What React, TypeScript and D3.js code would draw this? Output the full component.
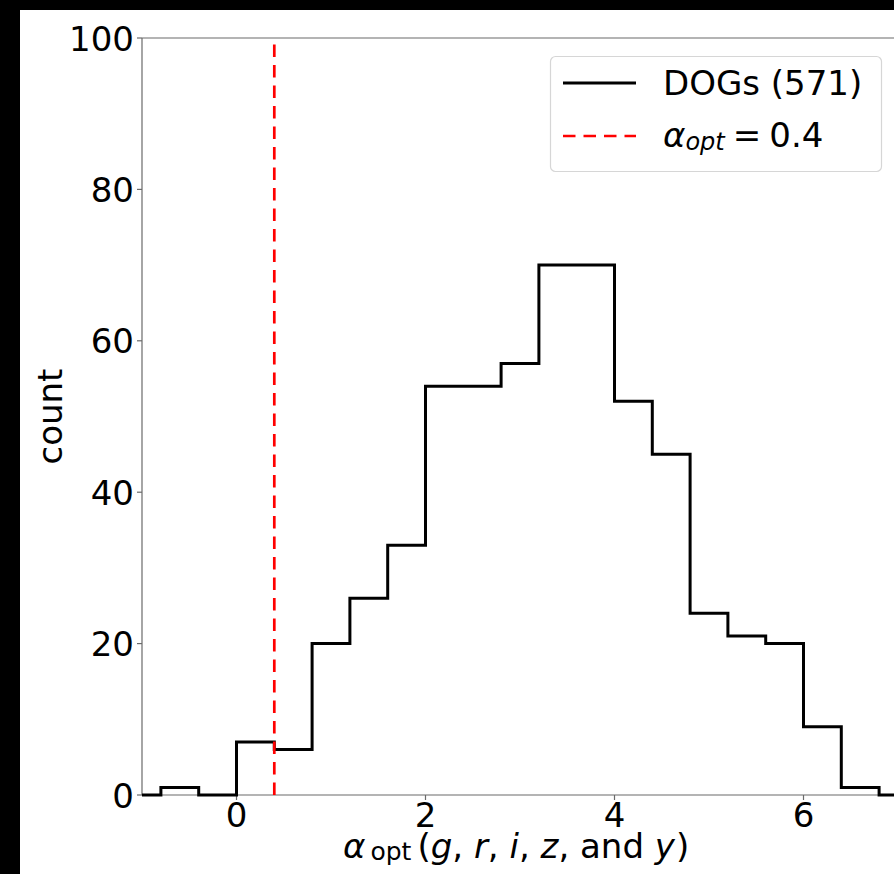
import React from "react";
import * as d3 from "d3";

// ---- data ----
const binEdges = [-1.2, -0.8, -0.4, 0.0, 0.4, 0.8, 1.2, 1.6, 2.0, 2.4, 2.8, 3.2, 3.6, 4.0, 4.4, 4.8, 5.2, 5.6, 6.0, 6.4, 6.8, 7.2];
const binCounts = [0, 1, 0, 7, 6, 20, 26, 33, 54, 54, 57, 70, 70, 52, 45, 24, 21, 20, 9, 1, 0];
const xTicks = [0, 2, 4, 6];
const yTicks = [0, 20, 40, 60, 80, 100];
const alphaOpt = 0.4;
const seriesLabel = "DOGs (571)";

const W = 894;
const H = 874;
const FONT = "DejaVu Sans, sans-serif";

export default function App() {
  const left = 142, right = 898, top = 38, bottom = 795;
  const x = d3.scaleLinear().domain([-1, 7]).range([left, right]);
  const y = d3.scaleLinear().domain([0, 100]).range([bottom, top]);

  const pts: [number, number][] = [[binEdges[0], 0]];
  binCounts.forEach((c, i) => {
    pts.push([binEdges[i], c]);
    pts.push([binEdges[i + 1], c]);
  });
  pts.push([binEdges[binEdges.length - 1], 0]);
  const line = d3.line<[number, number]>().x(d => x(d[0])).y(d => y(d[1]));

  const spine = "#6a6a6a";
  return (
    <svg width={W} height={H} style={{ position: "absolute", left: 0, top: 0 }} fontFamily={FONT}>
      <defs>
        <clipPath id="plot">
          <rect x={left} y={top - 2} width={right - left} height={bottom - top + 4} />
        </clipPath>
      </defs>
      <rect x={0} y={0} width={W} height={H} fill="#000" />
      <rect x={20} y={10} width={W - 20} height={H - 10} fill="#fff" />

      {/* spines */}
      <line x1={left} x2={right} y1={top} y2={top} stroke={spine} strokeWidth={1.2} />
      <line x1={left} x2={left} y1={top} y2={bottom} stroke={spine} strokeWidth={1.2} />
      <line x1={left} x2={right} y1={bottom} y2={bottom} stroke={spine} strokeWidth={1.2} />

      {/* y ticks */}
      {yTicks.map(t => (
        <g key={"y" + t}>
          <line x1={left - 5} x2={left} y1={y(t)} y2={y(t)} stroke={spine} strokeWidth={1.2} />
          <text x={left - 8} y={y(t) + 12.5} textAnchor="end" fontSize={34} fill="#000">{t}</text>
        </g>
      ))}
      {/* x ticks */}
      {xTicks.map(t => (
        <g key={"x" + t}>
          <line x1={x(t)} x2={x(t)} y1={bottom} y2={bottom + 5} stroke={spine} strokeWidth={1.2} />
          <text x={x(t)} y={bottom + 32} textAnchor="middle" fontSize={34} fill="#000">{t}</text>
        </g>
      ))}

      {/* histogram */}
      <g clipPath="url(#plot)">
        <path d={line(pts) || ""} fill="none" stroke="#000" strokeWidth={3} strokeLinejoin="miter" />
        <line x1={x(alphaOpt)} x2={x(alphaOpt)} y1={bottom} y2={top} stroke="#ff0000" strokeWidth={2.7} strokeDasharray="12.5,8" />
      </g>

      {/* axis labels */}
      <text transform={`translate(62,${(top + bottom) / 2}) rotate(-90)`} textAnchor="middle" fontSize={34} fill="#000">count</text>
      <text x={343} y={858} fontSize={34} fill="#000">
        <tspan fontStyle="italic">α</tspan>
        <tspan dx={5} fontSize={25} dy={2}>opt</tspan>
        <tspan dx={6} dy={-2}>(</tspan>
        <tspan fontStyle="italic">g</tspan>
        <tspan>, </tspan>
        <tspan fontStyle="italic">r</tspan>
        <tspan>, </tspan>
        <tspan fontStyle="italic">i</tspan>
        <tspan>, </tspan>
        <tspan fontStyle="italic">z</tspan>
        <tspan>, and </tspan>
        <tspan fontStyle="italic">y</tspan>
        <tspan dx={1}>)</tspan>
      </text>

      {/* legend */}
      <rect x={550.5} y={56.5} width={331} height={115} rx={5} fill="#fff" fillOpacity={0.8} stroke="#d6d6d6" strokeWidth={1.2} />
      <line x1={563} x2={636} y1={83} y2={83} stroke="#000" strokeWidth={3} />
      <text x={663} y={95} fontSize={34} fill="#000">{seriesLabel}</text>
      <line x1={563} x2={636} y1={136} y2={136} stroke="#ff0000" strokeWidth={2.7} strokeDasharray="12.5,8" />
      <text x={663} y={147} fontSize={34} fill="#000">
        <tspan fontStyle="italic">α</tspan>
        <tspan fontStyle="italic" fontSize={24} dy={3}>opt</tspan>
        <tspan dx={8} dy={-3}>=</tspan>
        <tspan dx={8}>{String(alphaOpt)}</tspan>
      </text>
    </svg>
  );
}
